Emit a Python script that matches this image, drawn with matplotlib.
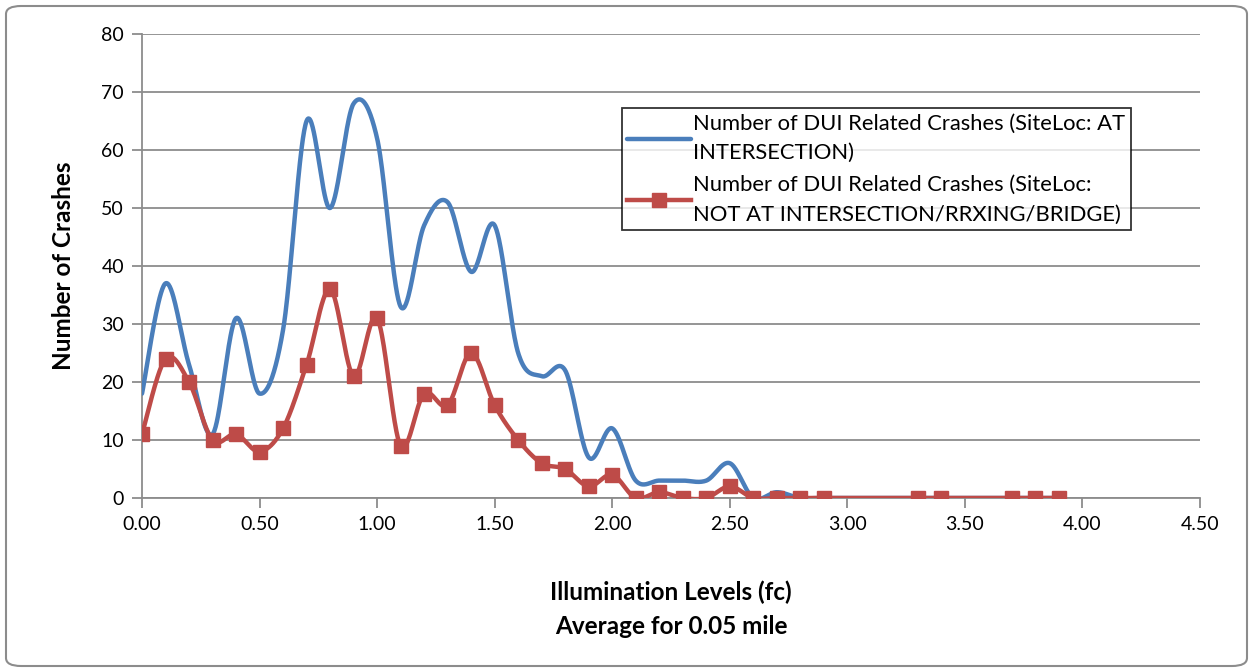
import numpy as np
import matplotlib
matplotlib.use('Agg')
import matplotlib.pyplot as plt
from matplotlib.patches import FancyBboxPatch

plt.rcParams['font.family'] = ['Lato', 'DejaVu Sans']

# 数据
illum = [0.0, 0.1, 0.2, 0.3, 0.4, 0.5, 0.6, 0.7, 0.8, 0.9,
         1.0, 1.1, 1.2, 1.3, 1.4, 1.5, 1.6, 1.7, 1.8, 1.9,
         2.0, 2.1, 2.2, 2.3, 2.4, 2.5, 2.6, 2.7, 2.8, 2.9,
         3.3, 3.4, 3.7, 3.8, 3.9]
at_intersection = [18, 37, 23, 11, 31, 18, 29, 65, 50, 68,
                   62, 33, 47, 51, 39, 47, 25, 21, 22, 7,
                   12, 3, 3, 3, 3, 6, 0, 1, 0, 0,
                   0, 0, 0, 0, 0]
not_at_intersection = [11, 24, 20, 10, 11, 8, 12, 23, 36, 21,
                       31, 9, 18, 16, 25, 16, 10, 6, 5, 2,
                       4, 0, 1, 0, 0, 2, 0, 0, 0, 0,
                       0, 0, 0, 0, 0]
label_at = 'Number of DUI Related Crashes (SiteLoc: AT\nINTERSECTION)'
label_not = 'Number of DUI Related Crashes (SiteLoc:\nNOT AT INTERSECTION/RRXING/BRIDGE)'

BLUE = '#4A7EBB'
RED = '#BE4B48'
GRID = '#8C8C8C'


def smooth(xs, ys, n=40):
    # Excel风格的平滑曲线 (Catmull-Rom -> Bezier)
    pts = np.column_stack([xs, ys]).astype(float)
    P = np.vstack([pts[0], pts, pts[-1]])
    t = np.linspace(0, 1, n)[:, None]
    segs = []
    for i in range(1, len(P) - 2):
        p0, p1, p2, p3 = P[i - 1], P[i], P[i + 1], P[i + 2]
        c1 = p1 + (p2 - p0) / 6
        c2 = p2 - (p3 - p1) / 6
        segs.append((1 - t) ** 3 * p1 + 3 * (1 - t) ** 2 * t * c1
                    + 3 * (1 - t) * t ** 2 * c2 + t ** 3 * p2)
    return np.vstack(segs)


fig = plt.figure(figsize=(12.53, 6.72), dpi=100)
ax = fig.add_axes([142 / 1253, 1 - 498 / 672, (1200 - 142) / 1253, (498 - 34) / 672])

# 外框
border = FancyBboxPatch((6 / 1253, 6 / 672), 1241 / 1253, 660 / 672,
                        boxstyle='round,pad=0,rounding_size=0.012',
                        transform=fig.transFigure, facecolor='none',
                        edgecolor='#8C8C8C', linewidth=1.5, zorder=0)
fig.patches.append(border)

sb = smooth(illum, at_intersection)
ax.plot(sb[:, 0], sb[:, 1], color=BLUE, lw=3.2, label=label_at, zorder=3,
        solid_capstyle='round')
sr = smooth(illum, not_at_intersection)
ax.plot(sr[:, 0], sr[:, 1], color=RED, lw=3.2, zorder=4, solid_capstyle='round')
ax.plot(illum, not_at_intersection, ls='none', marker='s', ms=10, color=RED, zorder=5)
ax.plot([], [], color=RED, lw=3.2, marker='s', ms=10, label=label_not)

ax.set_xlim(0, 4.5)
ax.set_ylim(0, 80)
ax.set_xticks(np.arange(0, 4.51, 0.5))
ax.set_xticklabels([f'{v:.2f}' for v in np.arange(0, 4.51, 0.5)])
ax.set_yticks(np.arange(0, 81, 10))
ax.yaxis.grid(True, color=GRID, lw=1.3)
ax.set_axisbelow(True)
for s in ['top', 'right']:
    ax.spines[s].set_visible(False)
for s in ['left', 'bottom']:
    ax.spines[s].set_color(GRID)
    ax.spines[s].set_linewidth(1.3)
ax.tick_params(axis='both', direction='out', length=7, width=1.3, color=GRID,
               labelsize=14, pad=6)

ax.set_ylabel('Number of Crashes', fontsize=17.5, fontweight='bold', labelpad=19)
ax.set_xlabel('Illumination Levels (fc)\nAverage for 0.05 mile', fontsize=17.5,
              fontweight='bold', labelpad=34, linespacing=1.6)

leg = ax.legend(loc='upper left', bbox_to_anchor=((622 - 142) / 1058, (498 - 108) / 464),
                fontsize=15.8, frameon=True, fancybox=False, handlelength=2.9,
                handletextpad=0.1, borderpad=0.25, labelspacing=0.55, borderaxespad=0)
for txt in leg.get_texts():
    txt.set_linespacing(1.6)
leg.get_frame().set_edgecolor('black')
leg.get_frame().set_linewidth(1.3)

fig.savefig('out.png', dpi=100)
